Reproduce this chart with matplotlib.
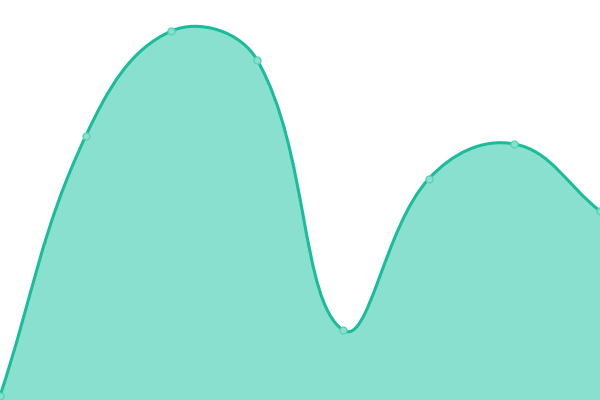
import numpy as np
import matplotlib
matplotlib.use('Agg')
import matplotlib.pyplot as plt
from matplotlib.path import Path
from matplotlib.patches import PathPatch

# values (pixel heights above the bottom edge)
labels = ['1', '2', '3', '4', '5', '6', '7', '8']
values = [4, 264, 369, 340, 70, 221, 256, 189]

LINE = '#1abc9c'
FILL = '#8ae0cf'
MARK_EDGE = '#5cd3b9'
TENSION = 0.4


def spline_controls(xs, ys, t):
    """Chart.js style cardinal spline control points."""
    n = len(xs)
    cps = []
    for i in range(n):
        px, py = (xs[i - 1], ys[i - 1]) if i > 0 else (xs[i], ys[i])
        nx, ny = (xs[i + 1], ys[i + 1]) if i < n - 1 else (xs[i], ys[i])
        cx, cy = xs[i], ys[i]
        d01 = np.hypot(cx - px, cy - py)
        d12 = np.hypot(nx - cx, ny - cy)
        tot = d01 + d12
        s01 = d01 / tot if tot else 0
        s12 = d12 / tot if tot else 0
        fa, fb = t * s01, t * s12
        prev_cp = (cx - fa * (nx - px), cy - fa * (ny - py))
        next_cp = (cx + fb * (nx - px), cy + fb * (ny - py))
        cps.append((prev_cp, next_cp))
    return cps


fig = plt.figure(figsize=(6, 4), dpi=100)
ax = fig.add_axes([0, 0, 1, 1])
ax.set_xlim(0, 600)
ax.set_ylim(0, 400)
ax.axis('off')

xs = np.linspace(0, 600, len(values))
ys = np.array(values, dtype=float)
cps = spline_controls(xs, ys, TENSION)

verts = [(xs[0], ys[0])]
codes = [Path.MOVETO]
for i in range(1, len(xs)):
    verts += [cps[i - 1][1], cps[i][0], (xs[i], ys[i])]
    codes += [Path.CURVE4] * 3
line_path = Path(verts, codes)

fill_verts = verts + [(xs[-1], 0), (xs[0], 0), (xs[0], ys[0])]
fill_codes = codes + [Path.LINETO, Path.LINETO, Path.CLOSEPOLY]
ax.add_patch(PathPatch(Path(fill_verts, fill_codes), facecolor=FILL,
                       edgecolor='none'))
ax.add_patch(PathPatch(line_path, facecolor='none', edgecolor=LINE,
                       linewidth=2.2, capstyle='round', joinstyle='round'))
ax.plot(xs, ys, 'o', ms=5, mfc=FILL, mec=MARK_EDGE, mew=1.0, clip_on=False)

plt.savefig('out.png', dpi=100)
